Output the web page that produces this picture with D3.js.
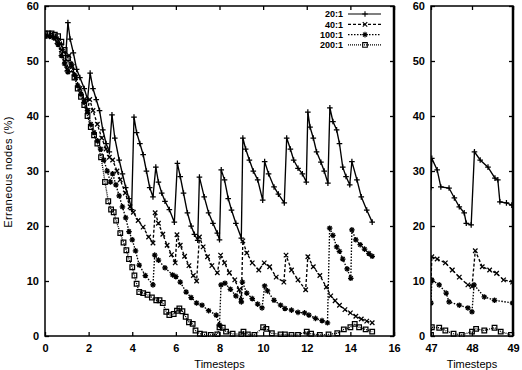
<!DOCTYPE html>
<html><head><meta charset="utf-8">
<script src="https://cdn.jsdelivr.net/npm/d3@7"></script>
<style>
html,body{margin:0;padding:0;background:#fff;}
svg{display:block;font-family:"Liberation Sans",Arial,Helvetica,sans-serif;}
</style></head>
<body>
<svg id="chart" width="522" height="370"></svg>
<script>
// ---------- DATA ----------
const seriesNames = ["20:1", "40:1", "100:1", "200:1"];

// left panel (timesteps 0..16)
const s20 = [[0,54.5],[0.25,54.5],[0.5,54.3],[0.75,53],[0.95,51],[1.05,57],[1.15,54],[1.3,51.5],[1.45,48.5],[1.6,47],[1.8,45],[1.95,43],[2.07,47.8],[2.2,45],[2.35,43],[2.5,41],[2.65,37.5],[2.8,35],[2.95,33.5],[3.07,40.2],[3.2,36],[3.4,32],[3.55,29.5],[3.7,27],[3.85,25],[3.97,23],[4.08,39.8],[4.2,37],[4.35,35],[4.5,33],[4.65,30],[4.8,27],[4.95,25.3],[5.08,30.7],[5.2,28],[5.35,26],[5.5,24.5],[5.7,23],[5.93,20.7],[6.07,31.4],[6.2,29],[6.35,26],[6.53,22.4],[6.7,20],[6.85,18.5],[7.0,17.4],[7.08,28.9],[7.3,25.3],[7.5,22.4],[7.7,20.5],[7.9,18.7],[8.0,17.5],[8.08,30.2],[8.23,28.4],[8.4,25],[8.55,22.9],[8.75,20.5],[9.0,17.8],[9.07,36],[9.2,34],[9.37,32],[9.55,30],[9.75,28.4],[9.98,24.7],[10.07,31.7],[10.25,29.5],[10.5,27.1],[10.7,25.8],[10.97,24.2],[11.08,36],[11.25,34],[11.4,32],[11.6,30.5],[11.8,29.5],[11.98,28],[12.05,40.7],[12.15,38],[12.3,36],[12.45,33.5],[12.65,31.6],[12.8,30],[12.97,27.8],[13.06,41.5],[13.2,39],[13.37,37.5],[13.5,35],[13.65,30.7],[13.8,29],[13.97,27.5],[14.07,31.7],[14.3,28.4],[14.5,25.3],[14.75,22.9],[15.0,20.7]];

const s40 = [[0,54.5],[0.3,54.4],[0.55,53.5],[0.75,52],[0.9,50],[1.0,48.5],[1.1,51],[1.25,49],[1.4,47],[1.6,45],[1.8,43],[1.95,41],[2.05,43],[2.2,41],[2.4,38.5],[2.6,36],[2.8,34],[2.95,32.5],[3.1,32],[3.3,30],[3.45,28.4],[3.68,26],[3.9,23.5],[4.05,22.5],[4.27,21],[4.5,19.8],[4.75,18],[4.95,16.9],[5.05,22.4],[5.2,20.5],[5.4,18.5],[5.6,16.5],[5.8,14.8],[5.97,13.3],[6.05,18.4],[6.2,16.5],[6.4,14.5],[6.6,12.8],[6.8,11],[6.95,10],[7.08,18],[7.25,16.2],[7.45,14.4],[7.65,12.8],[7.9,11.5],[8.05,14.7],[8.23,13.3],[8.45,11.5],[8.7,10.2],[8.9,8.4],[9.0,6.5],[9.07,17.3],[9.25,15.1],[9.5,13.3],[9.8,12],[10.05,13.3],[10.3,12.6],[10.6,10.7],[10.95,9.8],[11.05,14.7],[11.3,12],[11.6,10.2],[11.95,8.4],[12.05,14.4],[12.3,12.6],[12.6,11],[12.9,8.9],[13.1,7.3],[13.3,6.4],[13.5,5.6],[13.75,4.8],[14.0,4.2],[14.25,3.6],[14.5,3.1],[14.75,2.7],[15.0,2.4]];

const s100 = [[0,54.5],[0.2,54.5],[0.4,54.2],[0.6,53],[0.75,51],[0.9,49.5],[1.05,48],[1.2,49.5],[1.35,47.5],[1.5,45.5],[1.65,44],[1.8,42.5],[1.95,41],[2.1,38.5],[2.25,37],[2.4,35.5],[2.55,34],[2.7,32],[2.85,30],[3.0,28],[3.1,29.5],[3.25,27.5],[3.4,25.5],[3.55,23.5],[3.7,21.5],[3.85,19],[4.0,17.5],[4.15,15.5],[4.32,12.9],[4.6,11],[4.95,9.3],[5.03,14.7],[5.2,13.8],[5.5,12.4],[5.85,11.1],[6.0,10.8],[6.2,9.8],[6.47,8],[6.7,7],[6.95,6],[7.2,5.6],[7.5,4.6],[7.85,3.8],[8.0,2],[8.07,9.3],[8.25,9.6],[8.5,8.5],[8.75,7.3],[9.0,6.2],[9.05,9.8],[9.25,7.8],[9.5,6.8],[9.75,5.8],[9.95,5.1],[10.07,9.1],[10.2,8.2],[10.5,6.5],[10.8,5.6],[11.0,5],[11.3,4.7],[11.6,4.3],[11.9,4.2],[12.1,3.8],[12.4,3.2],[12.7,2.8],[12.95,2.4],[13.05,19.6],[13.2,18.3],[13.37,16.2],[13.5,15.4],[13.65,14],[13.85,12.2],[14.02,10.5],[14.07,19.3],[14.25,17.5],[14.45,16.6],[14.65,15.8],[14.85,15],[15.0,14.5]];

const s200 = [[0,55],[0.15,55],[0.3,55],[0.45,54.8],[0.6,54.5],[0.75,53.5],[0.9,52],[1.05,50.5],[1.2,48.5],[1.35,47],[1.5,45],[1.65,43.5],[1.8,42],[1.95,40],[2.1,38],[2.25,36.5],[2.4,35],[2.57,32.5],[2.75,28],[2.9,24.5],[3.03,23],[3.15,22.5],[3.26,21],[3.45,18.7],[3.6,17],[3.73,15.6],[3.85,14],[4.0,12.5],[4.1,11],[4.2,9.5],[4.32,8],[4.5,7.8],[4.7,7.5],[4.9,7],[5.1,6.5],[5.25,6.5],[5.4,6],[5.56,4.4],[5.7,3.8],[5.9,4],[6.05,4.6],[6.16,5],[6.3,4.5],[6.45,3.5],[6.6,2.5],[6.77,2.2],[6.9,1],[7.1,0.4],[7.3,0.3],[7.6,0.2],[7.9,0.3],[8.0,1.6],[8.15,1.5],[8.3,0.8],[8.6,0.4],[9.0,0.3],[9.1,0.8],[9.3,0.3],[9.6,0.2],[10.0,1.6],[10.15,1.3],[10.4,0.5],[10.8,0.3],[11.0,0.3],[11.3,0.2],[11.6,0.2],[12.0,0.8],[12.2,0.4],[12.6,0.2],[13.0,0.3],[13.4,0.5],[13.7,1.2],[14.0,1.6],[14.2,2.2],[14.4,1.6],[14.7,1.2],[15.0,0.8]];

// right panel (timesteps 47..49)
const r20 = [[47.0,27],[47.02,32.3],[47.15,30.2],[47.24,27.1],[47.44,26.9],[47.57,25.1],[47.69,23.5],[47.81,22.4],[47.86,20.5],[47.98,20.2],[48.06,33.5],[48.2,32],[48.39,30.7],[48.56,28.7],[48.63,28.4],[48.68,24.4],[48.84,24.2],[48.97,23.8]];
const r40 = [[47.0,10],[47.02,14.4],[47.15,14],[47.35,13.3],[47.52,12],[47.69,10.7],[47.9,9.3],[48.0,9],[48.08,15.5],[48.25,12.6],[48.43,12],[48.6,11.4],[48.77,10.2],[48.99,9.8]];
const r100 = [[47.0,6],[47.02,10.2],[47.2,9.3],[47.37,7.8],[47.44,6.2],[47.69,5.6],[47.9,5.1],[48.0,4.4],[48.05,9.3],[48.3,7.1],[48.55,6.5],[48.99,6]];
const r200 = [[47.0,0.2],[47.02,1.6],[47.2,1.5],[47.35,1],[47.55,0.4],[47.75,0.2],[48.0,0.8],[48.1,1.3],[48.3,1],[48.55,1.5],[48.7,0.8],[48.95,0.2]];

const yTicks = [0,10,20,30,40,50,60];
const xTicksLeft = [0,2,4,6,8,10,12,14,16];
const xTicksRight = [47,48,49];
const xTitle = "Timesteps";
const yTitle = "Erraneous nodes (%)";

// ---------- DRAW ----------
const svg = d3.select("#chart");
const FONT = 11;

const styles = [
  {dash: null, marker: "plus"},
  {dash: "3,2", marker: "cross"},
  {dash: "1.5,1.5", marker: "star"},
  {dash: "1,1", marker: "square"}
];

function markerPath(type){
  const r = 2.8;
  if(type==="plus") return `M${-r},0H${r}M0,${-r}V${r}`;
  if(type==="cross") return `M${-r*0.8},${-r*0.8}L${r*0.8},${r*0.8}M${-r*0.8},${r*0.8}L${r*0.8},${-r*0.8}`;
  if(type==="star") return `M${-r},0H${r}M0,${-r}V${r}M${-r*0.7},${-r*0.7}L${r*0.7},${r*0.7}M${-r*0.7},${r*0.7}L${r*0.7},${-r*0.7}`;
  return `M-2.3,-2.3H2.3V2.3H-2.3Z`;
}

const y = d3.scaleLinear().domain([0,60]).range([336,6]);

function panel(id, xDomain, xRange, xTicks, datasets){
  const x = d3.scaleLinear().domain(xDomain).range(xRange);
  const g = svg.append("g");
  const clipId = "clip"+id;
  svg.append("defs").append("clipPath").attr("id",clipId)
    .append("rect").attr("x",xRange[0]).attr("y",y(60)-1)
    .attr("width",xRange[1]-xRange[0]).attr("height",y(0)-y(60)+2);

  const plot = g.append("g").attr("clip-path",`url(#${clipId})`);
  datasets.forEach((d,i)=>{
    const st = styles[i];
    plot.append("path").datum(d)
      .attr("fill","none").attr("stroke","#000").attr("stroke-width",1.35)
      .attr("stroke-dasharray",st.dash)
      .attr("d", d3.line().x(p=>x(p[0])).y(p=>y(p[1])));
    plot.selectAll(null).data(d).enter().append("path")
      .attr("transform",p=>`translate(${x(p[0])},${y(p[1])})`)
      .attr("d", markerPath(st.marker))
      .attr("fill","none").attr("stroke","#000").attr("stroke-width",1.25);
  });

  const axL = d3.axisLeft(y).tickValues(yTicks).tickSize(-4).tickPadding(6).tickFormat(d3.format("d"));
  const axR = d3.axisRight(y).tickValues(yTicks).tickSize(-4).tickFormat("");
  const axB = d3.axisBottom(x).tickValues(xTicks).tickSize(-4).tickPadding(8).tickFormat(d3.format("d"));
  const axT = d3.axisTop(x).tickValues(xTicks).tickSize(-4).tickFormat("");
  const gl = g.append("g").attr("transform",`translate(${xRange[0]},0)`).call(axL);
  const gr = g.append("g").attr("transform",`translate(${xRange[1]},0)`).call(axR);
  const gb = g.append("g").attr("transform",`translate(0,${y(0)})`).call(axB);
  const gt = g.append("g").attr("transform",`translate(0,${y(60)})`).call(axT);
  [gl,gr,gb,gt].forEach(a=>{
    a.select(".domain").remove();
    a.selectAll(".tick line").attr("stroke","#000").attr("stroke-width",1.3);
    a.selectAll("text").attr("fill","#000").attr("font-size",FONT).attr("font-weight","bold");
  });
  g.append("rect").attr("x",xRange[0]).attr("y",y(60))
    .attr("width",xRange[1]-xRange[0]).attr("height",y(0)-y(60))
    .attr("fill","none").attr("stroke","#000").attr("stroke-width",1.5);
  g.append("line").attr("x1",xRange[1]).attr("x2",xRange[1]).attr("y1",y(60)).attr("y2",y(0))
    .attr("stroke","#000").attr("stroke-width",2.5);

  g.append("text").attr("x",(xRange[0]+xRange[1])/2).attr("y",368)
    .attr("text-anchor","middle").attr("font-size",FONT).attr("fill","#000").text(xTitle);
  return x;
}

panel("L",[0,16],[45,394],xTicksLeft,[s20,s40,s100,s200]);
panel("R",[47,49],[431,513],xTicksRight,[r20,r40,r100,r200]);

// y title
svg.append("text").attr("transform","translate(12,172) rotate(-90)")
  .attr("text-anchor","middle").attr("font-size",FONT).attr("letter-spacing",0.4)
  .attr("fill","#000").text(yTitle);

// legend
const legY = [14,24.3,34.6,44.9];
const lg = svg.append("g");
seriesNames.forEach((n,i)=>{
  lg.append("text").attr("x",343).attr("y",legY[i]+3.3).attr("text-anchor","end")
    .attr("font-size",9).attr("font-weight","bold").attr("fill","#000").text(n);
  lg.append("line").attr("x1",348).attr("x2",381).attr("y1",legY[i]).attr("y2",legY[i])
    .attr("stroke","#000").attr("stroke-width",1.2).attr("stroke-dasharray",styles[i].dash);
  lg.append("path").attr("transform",`translate(365,${legY[i]})`).attr("d",markerPath(styles[i].marker))
    .attr("fill","none").attr("stroke","#000").attr("stroke-width",1.1);
});
</script>
</body></html>
